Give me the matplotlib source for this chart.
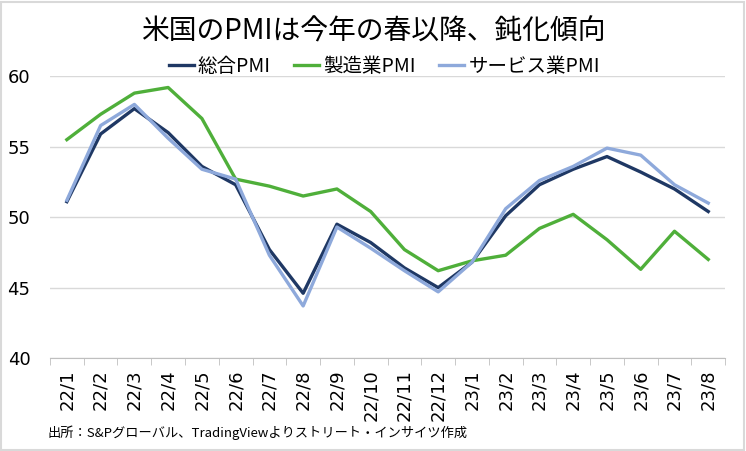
import matplotlib
matplotlib.use('Agg')
import matplotlib.pyplot as plt
from matplotlib.patches import Rectangle

plt.rcParams['font.family'] = ['Noto Sans CJK JP', 'DejaVu Sans']

months = ['22/1', '22/2', '22/3', '22/4', '22/5', '22/6', '22/7', '22/8', '22/9', '22/10',
          '22/11', '22/12', '23/1', '23/2', '23/3', '23/4', '23/5', '23/6', '23/7', '23/8']
composite = [51.1, 55.9, 57.7, 56.0, 53.6, 52.3, 47.7, 44.6, 49.5, 48.2,
             46.4, 45.0, 46.8, 50.1, 52.3, 53.4, 54.3, 53.2, 52.0, 50.4]
manufacturing = [55.5, 57.3, 58.8, 59.2, 57.0, 52.7, 52.2, 51.5, 52.0, 50.4,
                 47.7, 46.2, 46.9, 47.3, 49.2, 50.2, 48.4, 46.3, 49.0, 47.0]
services = [51.2, 56.5, 58.0, 55.6, 53.4, 52.7, 47.3, 43.7, 49.3, 47.8,
            46.2, 44.7, 46.8, 50.6, 52.6, 53.6, 54.9, 54.4, 52.3, 51.0]

fig = plt.figure(figsize=(7.46, 4.51), dpi=100)
ax = fig.add_axes([0.067, 0.206, 0.905, 0.625])

x = range(len(months))
ax.plot(x, composite, color='#1F3864', lw=2.4, label='総合PMI', zorder=3)
ax.plot(x, manufacturing, color='#4FAF3A', lw=2.4, label='製造業PMI', zorder=4)
ax.plot(x, services, color='#8EA9DB', lw=2.4, label='サービス業PMI', zorder=5)

ax.set_ylim(40, 60)
ax.set_yticks([40, 45, 50, 55, 60])
ax.set_xlim(-0.5, len(months) - 0.5)
ax.set_xticks(list(x))
ax.set_xticklabels(months, rotation=90, fontsize=13, family=['DejaVu Sans'])
# boundary ticks between categories, like the original
ax.set_xticks([i - 0.5 for i in range(len(months) + 1)], minor=True)
ax.tick_params(axis='x', which='major', length=0, pad=8)
ax.tick_params(axis='x', which='minor', length=5, color='#BFBFBF')
ax.tick_params(axis='y', length=0, labelsize=13, pad=14)
for lab in ax.get_yticklabels():
    lab.set_family(['DejaVu Sans'])

ax.grid(axis='y', color='#D9D9D9', lw=1)
ax.set_axisbelow(True)
for s in ['top', 'right', 'left']:
    ax.spines[s].set_visible(False)
ax.spines['bottom'].set_color('#BFBFBF')

fig.text(0.5, 0.93, '米国のPMIは今年の春以降、鈍化傾向', ha='center', va='center', fontsize=20)
fig.legend(loc='center', bbox_to_anchor=(0.515, 0.853), ncol=3, frameon=False,
           fontsize=14, handlelength=1.3, handletextpad=0.2, columnspacing=1.2)
fig.text(0.064, 0.04, '出所：S&Pグローバル、TradingViewよりストリート・インサイツ作成',
         ha='left', va='center', fontsize=9.5)

fig.patches.append(Rectangle((0.002, 0.003), 0.995, 0.993, transform=fig.transFigure,
                             fill=False, edgecolor='#D9D9D9', lw=1.5))

fig.savefig('out.png', dpi=100)
